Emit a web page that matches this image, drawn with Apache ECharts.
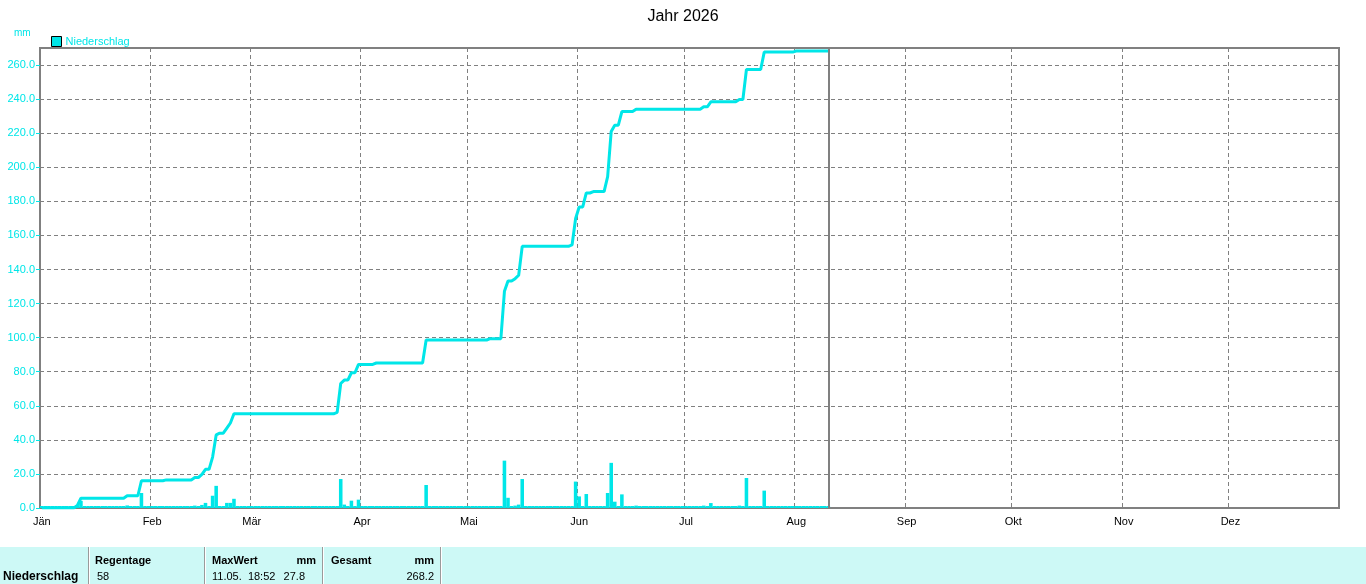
<!DOCTYPE html>
<html>
<head>
<meta charset="utf-8">
<script src="https://cdn.jsdelivr.net/npm/echarts@6/dist/echarts.min.js"></script>
<style>
  html, body { margin: 0; padding: 0; background: #ffffff; }
  #chart { width: 1366px; height: 584px; }
</style>
</head>
<body>
<div id="chart"></div>
<script>
// ---------- data ----------
const chartTitle = 'Jahr 2026';
const seriesName = 'Niederschlag';
const unitLabel = 'mm';
const monthLabels = ['Jän', 'Feb', 'Mär', 'Apr', 'Mai', 'Jun', 'Jul', 'Aug', 'Sep', 'Okt', 'Nov', 'Dez'];

// days with precipitation (dd.mm.) and daily totals in mm
const rainDates = [
  '11.01.', '12.01.', '25.01.', '29.01.',
  '05.02.', '13.02.', '15.02.', '16.02.', '18.02.', '19.02.', '20.02.', '22.02.', '23.02.', '24.02.',
  '25.03.', '26.03.', '27.03.', '29.03.', '31.03.',
  '05.04.', '19.04.',
  '07.05.', '11.05.', '12.05.', '14.05.', '15.05.', '16.05.', '30.05.', '31.05.',
  '01.06.', '03.06.', '05.06.', '09.06.', '10.06.', '11.06.', '13.06.', '17.06.',
  '06.07.', '08.07.', '16.07.', '18.07.', '23.07.',
  '01.08.'
];
const rainMM = [
  1.5, 4.2, 1.5, 8.8,
  0.5, 1.4, 1.8, 3.0, 7.2, 13.0, 1.0, 3.0, 3.0, 5.4,
  0.8, 17.0, 2.0, 4.3, 4.9,
  0.8, 13.5,
  0.8, 27.8, 6.0, 1.4, 2.0, 17.0, 0.8, 15.5,
  6.8, 8.2, 0.8, 8.8, 26.5, 3.7, 8.0, 1.4,
  1.4, 2.9, 1.4, 17.6, 10.2,
  0.6
];
const lastDataDate = '10.08.';   // current day (vertical marker)

const yMin = 0, yMax = 270, yInterval = 20;

// summary table
const tableRowLabel = 'Niederschlag';
const tableHeaders = ['Regentage', 'MaxWert', 'mm', 'Gesamt', 'mm'];
const tableRainDays = '58';
const tableMaxWhen = '11.05.  18:52';
const tableMaxValue = '27.8';
const tableTotal = '268.2';

// ---------- build daily categories ----------
const categories = [];
const monthStartIdx = [];
for (let i = 0; i < 365; i++) {
  const dt = new Date(Date.UTC(2026, 0, 1 + i));
  const dd = String(dt.getUTCDate()).padStart(2, '0');
  const mm = String(dt.getUTCMonth() + 1).padStart(2, '0');
  categories.push(dd + '.' + mm + '.');
  if (dt.getUTCDate() === 1) monthStartIdx.push(i);
}
const lastIdx = categories.indexOf(lastDataDate);
const rainMap = {};
rainDates.forEach((d, k) => { rainMap[d] = rainMM[k]; });
const dailyRain = categories.map((c, i) => i <= lastIdx ? (rainMap[c] || 0) : null);
const cumRain = [];
let acc = 0;
dailyRain.forEach((v) => {
  if (v === null) { cumRain.push(null); return; }
  acc += v;
  cumRain.push(+acc.toFixed(1));
});

const CYAN = '#00e6e8';
const GRAY = '#808080';
const FONT = '"Liberation Sans", Arial, sans-serif';

const chart = echarts.init(document.getElementById('chart'), null, { renderer: 'canvas' });

const monthLabelOf = (idx) => monthLabels[monthStartIdx.indexOf(idx)];

const tableFill = '#cdf9f6';
const tableTop = 547;

const option = {
  animation: false,
  backgroundColor: '#ffffff',
  title: {
    text: chartTitle,
    left: 'center',
    top: 4,
    textStyle: { fontFamily: FONT, fontSize: 16, fontWeight: 'normal', color: '#000000' }
  },
  legend: {
    data: [seriesName],
    left: 46,
    top: 31,
    icon: 'rect',
    itemWidth: 10,
    itemHeight: 10,
    itemGap: 4,
    itemStyle: { borderColor: '#000000', borderWidth: 1 },
    textStyle: { fontFamily: FONT, fontSize: 11, color: CYAN, padding: [0, 0, 0, -1] }
  },
  grid: {
    left: 40, right: 27, top: 48, bottom: 76,
    show: true, borderColor: GRAY, borderWidth: 2, backgroundColor: 'transparent'
  },
  xAxis: {
    type: 'category',
    data: categories,
    boundaryGap: true,
    axisLine: { show: true, lineStyle: { color: GRAY, width: 2 } },
    axisTick: { show: false },
    axisLabel: {
      interval: (idx) => monthStartIdx.indexOf(idx) >= 0,
      formatter: (val, idx) => monthLabelOf(idx) || '',
      color: '#000000',
      fontFamily: FONT,
      fontSize: 11,
      margin: 8,
      hideOverlap: false
    },
    splitLine: {
      show: true,
      interval: (idx) => monthStartIdx.indexOf(idx) > 0,
      lineStyle: { color: GRAY, type: [4, 3], width: 1 }
    }
  },
  yAxis: {
    type: 'value',
    min: yMin, max: yMax, interval: yInterval,
    axisLine: { show: true, lineStyle: { color: GRAY, width: 2 } },
    axisTick: { show: true, length: 4, lineStyle: { color: CYAN } },
    axisLabel: {
      formatter: (v) => v.toFixed(1),
      color: CYAN,
      fontFamily: FONT,
      fontSize: 11,
      margin: 5,
      showMaxLabel: false
    },
    splitLine: { show: true, lineStyle: { color: GRAY, type: [4, 3], width: 1 } }
  },
  series: [
    {
      name: seriesName,
      type: 'bar',
      data: dailyRain,
      barWidth: '100%',
      barGap: '-100%',
      barMinHeight: 2,
      itemStyle: { color: CYAN },
      z: 2,
      silent: true
    },
    {
      name: 'Summe',
      type: 'line',
      data: cumRain,
      showSymbol: false,
      symbol: 'none',
      lineStyle: { color: CYAN, width: 3 },
      itemStyle: { color: CYAN },
      z: 3,
      silent: true,
      markLine: {
        silent: true,
        symbol: 'none',
        label: { show: false },
        lineStyle: { color: GRAY, type: 'solid', width: 2 },
        data: [{ xAxis: lastDataDate }]
      }
    }
  ],
  graphic: [
    {
      type: 'text', left: 14, top: 28,
      style: { text: unitLabel, fill: CYAN, font: '10px ' + FONT }
    },
    {
      type: 'rect', shape: { x: 0, y: tableTop, width: 1366, height: 584 - tableTop },
      style: { fill: tableFill }, z: 0
    },
    { type: 'rect', shape: { x: 88, y: tableTop, width: 1, height: 37 }, style: { fill: '#9a9a9a' } },
    { type: 'rect', shape: { x: 89, y: tableTop, width: 1, height: 37 }, style: { fill: '#ffffff' } },
    { type: 'rect', shape: { x: 204, y: tableTop, width: 1, height: 37 }, style: { fill: '#9a9a9a' } },
    { type: 'rect', shape: { x: 205, y: tableTop, width: 1, height: 37 }, style: { fill: '#ffffff' } },
    { type: 'rect', shape: { x: 322, y: tableTop, width: 1, height: 37 }, style: { fill: '#9a9a9a' } },
    { type: 'rect', shape: { x: 323, y: tableTop, width: 1, height: 37 }, style: { fill: '#ffffff' } },
    { type: 'rect', shape: { x: 440, y: tableTop, width: 1, height: 37 }, style: { fill: '#9a9a9a' } },
    { type: 'rect', shape: { x: 441, y: tableTop, width: 1, height: 37 }, style: { fill: '#ffffff' } },
    {
      type: 'text', x: 3, y: 577,
      style: { text: tableRowLabel, fill: '#000', font: 'bold 12px ' + FONT, textVerticalAlign: 'middle' }
    },
    {
      type: 'text', x: 95, y: 561,
      style: { text: tableHeaders[0], fill: '#000', font: 'bold 11px ' + FONT, textVerticalAlign: 'middle' }
    },
    {
      type: 'text', x: 212, y: 561,
      style: { text: tableHeaders[1], fill: '#000', font: 'bold 11px ' + FONT, textVerticalAlign: 'middle' }
    },
    {
      type: 'text', x: 316, y: 561,
      style: { text: tableHeaders[2], fill: '#000', font: 'bold 11px ' + FONT, textAlign: 'right', textVerticalAlign: 'middle' }
    },
    {
      type: 'text', x: 331, y: 561,
      style: { text: tableHeaders[3], fill: '#000', font: 'bold 11px ' + FONT, textVerticalAlign: 'middle' }
    },
    {
      type: 'text', x: 434, y: 561,
      style: { text: tableHeaders[4], fill: '#000', font: 'bold 11px ' + FONT, textAlign: 'right', textVerticalAlign: 'middle' }
    },
    {
      type: 'text', x: 97, y: 577,
      style: { text: tableRainDays, fill: '#000', font: '11px ' + FONT, textVerticalAlign: 'middle' }
    },
    {
      type: 'text', x: 212, y: 577,
      style: { text: tableMaxWhen, fill: '#000', font: '11px ' + FONT, textVerticalAlign: 'middle' }
    },
    {
      type: 'text', x: 305, y: 577,
      style: { text: tableMaxValue, fill: '#000', font: '11px ' + FONT, textAlign: 'right', textVerticalAlign: 'middle' }
    },
    {
      type: 'text', x: 434, y: 577,
      style: { text: tableTotal, fill: '#000', font: '11px ' + FONT, textAlign: 'right', textVerticalAlign: 'middle' }
    }
  ]
};

chart.setOption(option);
</script>
</body>
</html>
